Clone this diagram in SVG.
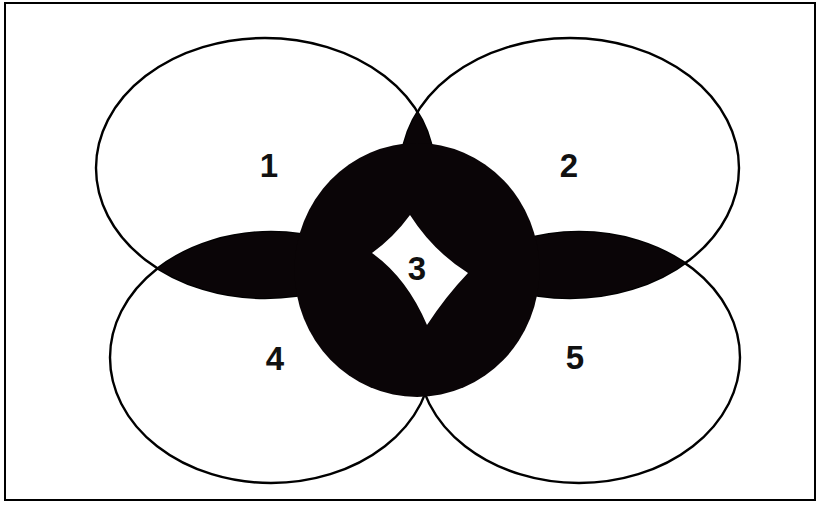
<svg xmlns="http://www.w3.org/2000/svg" width="818" height="505" viewBox="0 0 818 505">
  <style>
    .outline { fill: none; stroke: #000; stroke-width: 2.4; }
    .shade { fill: #0a0507; }
    .label { font-family: "Liberation Sans", Arial, sans-serif; font-weight: bold; font-size: 33px; fill: #111; text-anchor: middle; }
  </style>
  <defs>
    <ellipse id="e1" cx="265" cy="168" rx="169" ry="130"/>
    <ellipse id="e2" cx="570" cy="168" rx="169" ry="130"/>
    <ellipse id="e4" cx="271" cy="357.5" rx="161" ry="125.5"/>
    <ellipse id="e5" cx="579" cy="357.5" rx="161" ry="125.5"/>
    <clipPath id="clip1"><use href="#e1"/></clipPath>
    <clipPath id="clip2"><use href="#e2"/></clipPath>
  </defs>
  <rect x="0" y="0" width="818" height="505" fill="#fff"/>
  <rect x="5" y="3" width="810" height="497" fill="none" stroke="#000" stroke-width="2"/>

  <g id="set1"><use href="#e1" class="outline"/></g>
  <g id="set2"><use href="#e2" class="outline"/></g>
  <g id="set4"><use href="#e4" class="outline"/></g>
  <g id="set5"><use href="#e5" class="outline"/></g>

  <g id="overlaps">
    <use href="#e4" class="shade" clip-path="url(#clip1)"/>
    <use href="#e5" class="shade" clip-path="url(#clip2)"/>
    <use href="#e2" class="shade" clip-path="url(#clip1)"/>
  </g>

  <g id="set3">
    <ellipse cx="417" cy="270" rx="122.5" ry="127" class="shade"/>
    <path d="M410,215 Q394,237 372,253 Q407,278 427,325 Q446,296 468,273 Q433,251 410,215 Z" fill="#fff"/>
  </g>

  <g id="labels">
    <text class="label" x="269" y="177">1</text>
    <text class="label" x="569" y="177">2</text>
    <text class="label" x="417" y="280">3</text>
    <text class="label" x="275" y="370">4</text>
    <text class="label" x="575" y="369">5</text>
  </g>
</svg>
